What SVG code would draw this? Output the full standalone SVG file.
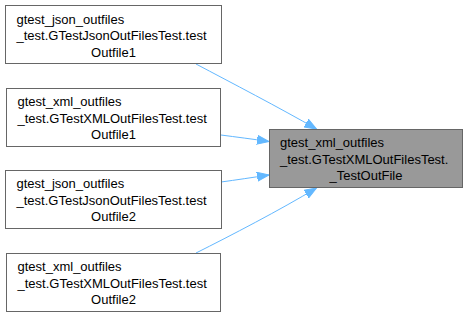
<svg xmlns="http://www.w3.org/2000/svg" width="467" height="317" viewBox="0 0 467 317">
  <style>
    .node rect { fill: #ffffff; stroke: #666666; stroke-width: 1; }
    .node.main rect { fill: #999999; }
    .node text { font-family: "Liberation Sans", Arial, sans-serif; font-size: 13px; fill: #000000; }
    .edge { fill: none; stroke: #63b8ff; stroke-width: 1; }
  </style>
  <defs>
    <marker id="arrow" markerUnits="userSpaceOnUse" markerWidth="13" markerHeight="10" refX="12" refY="5" orient="auto">
      <path d="M0,0.5 L12,5 L0,9.5 z" fill="#63b8ff" stroke="#63b8ff" stroke-width="1"/>
    </marker>
  </defs>

  <g id="connectors">
    <path class="edge" d="M196,64 C230,82 280,108 316.5,129" marker-end="url(#arrow)"/>
    <path class="edge" d="M221,135 C236,137 252,139 269,141.5" marker-end="url(#arrow)"/>
    <path class="edge" d="M221,182 C236,180 252,177.5 269,175" marker-end="url(#arrow)"/>
    <path class="edge" d="M196,253 C230,236 280,210 316.5,188" marker-end="url(#arrow)"/>
  </g>

  <g id="node-json1" class="node">
    <rect x="5.5" y="5.5" width="216" height="58"/>
    <text x="16.5" y="23.5">gtest_json_outfiles</text>
    <text x="16.5" y="40">_test.GTestJsonOutFilesTest.test</text>
    <text x="113.5" y="56.5" text-anchor="middle">Outfile1</text>
  </g>

  <g id="node-xml1" class="node">
    <rect x="6.5" y="88.5" width="214" height="58"/>
    <text x="17.5" y="106">gtest_xml_outfiles</text>
    <text x="17.5" y="122.5">_test.GTestXMLOutFilesTest.test</text>
    <text x="113.5" y="139" text-anchor="middle">Outfile1</text>
  </g>

  <g id="node-json2" class="node">
    <rect x="5.5" y="170.5" width="216" height="58"/>
    <text x="16.5" y="188">gtest_json_outfiles</text>
    <text x="16.5" y="204.5">_test.GTestJsonOutFilesTest.test</text>
    <text x="113.5" y="221" text-anchor="middle">Outfile2</text>
  </g>

  <g id="node-xml2" class="node">
    <rect x="6.5" y="253.5" width="214" height="58"/>
    <text x="17.5" y="271">gtest_xml_outfiles</text>
    <text x="17.5" y="287.5">_test.GTestXMLOutFilesTest.test</text>
    <text x="113.5" y="304" text-anchor="middle">Outfile2</text>
  </g>

  <g id="node-testoutfile" class="node main">
    <rect x="269.5" y="129.5" width="193" height="58"/>
    <text x="280" y="147">gtest_xml_outfiles</text>
    <text x="280" y="163.5">_test.GTestXMLOutFilesTest.</text>
    <text x="366" y="180" text-anchor="middle">_TestOutFile</text>
  </g>
</svg>
